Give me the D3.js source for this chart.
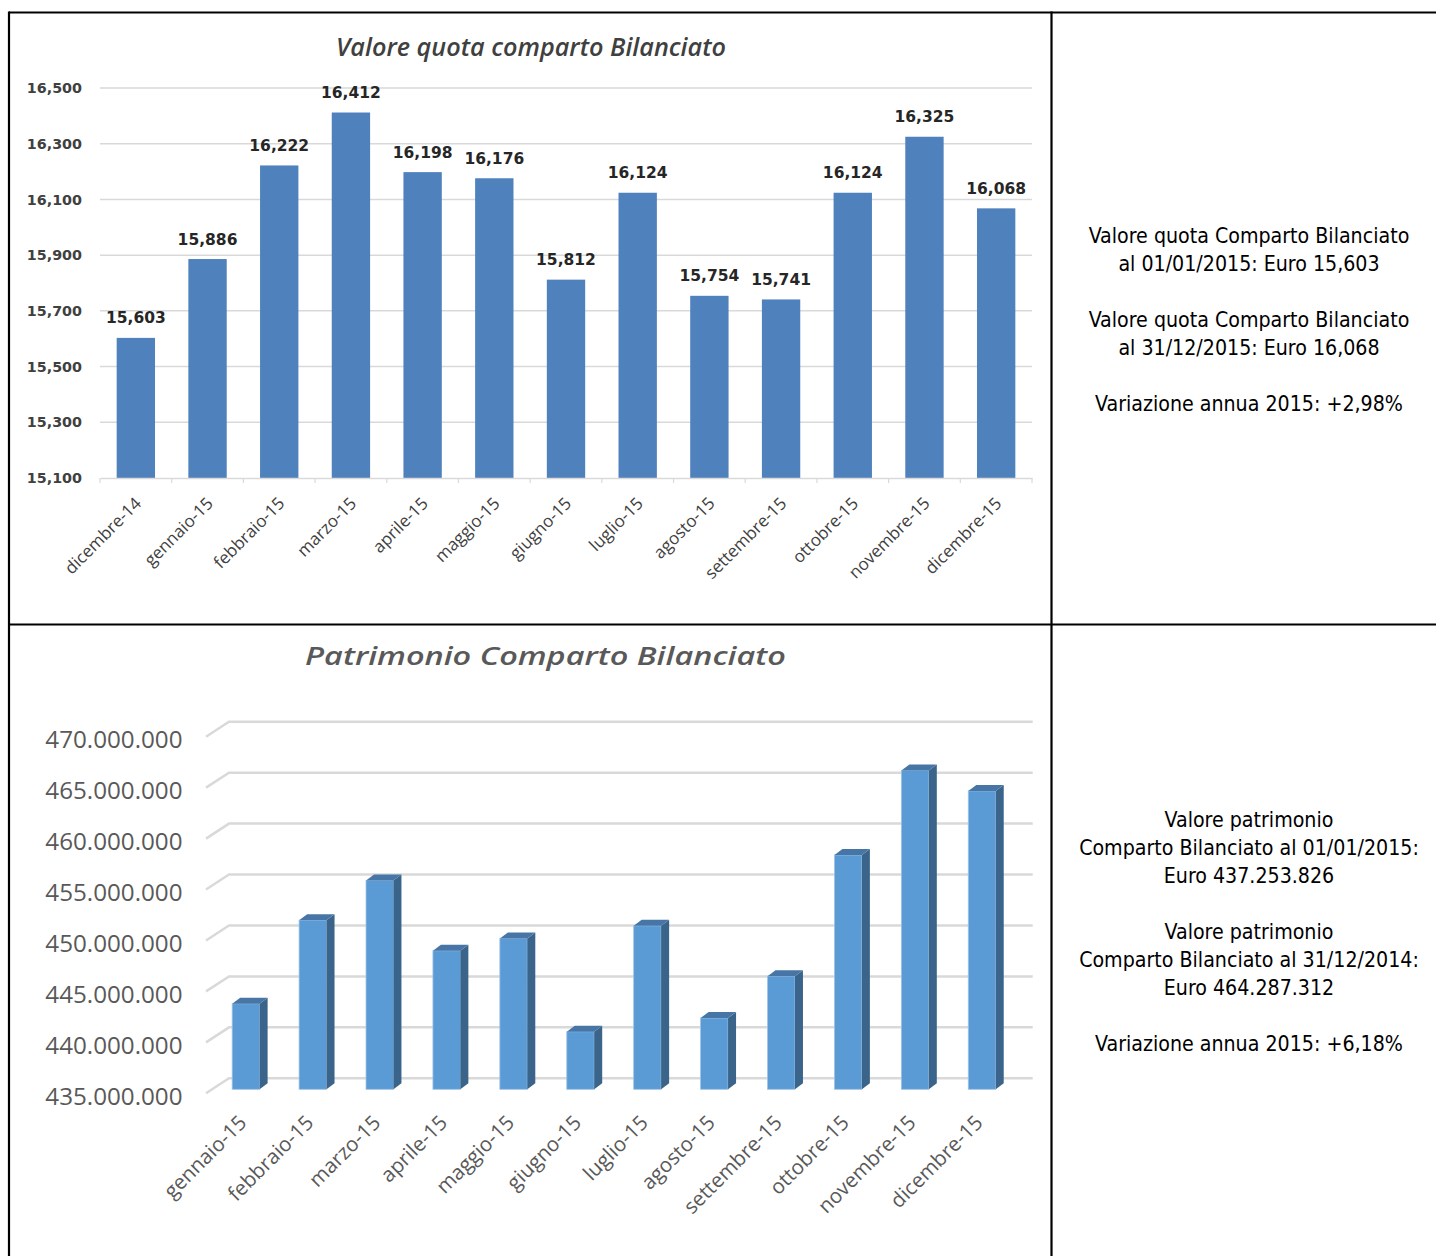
<!DOCTYPE html>
<html><head><meta charset="utf-8">
<script src="https://cdn.jsdelivr.net/npm/d3@7"></script>
<style>
html,body{margin:0;padding:0;background:#fff;}
svg{display:block;}
</style></head>
<body>
<svg id="c" width="1436" height="1256"></svg>
<script>
// ---------- DATA ----------
const quotaCategories = ["dicembre-14","gennaio-15","febbraio-15","marzo-15","aprile-15","maggio-15","giugno-15","luglio-15","agosto-15","settembre-15","ottobre-15","novembre-15","dicembre-15"];
const quotaValues = [15.603,15.886,16.222,16.412,16.198,16.176,15.812,16.124,15.754,15.741,16.124,16.325,16.068];
const quotaTicks = [15.1,15.3,15.5,15.7,15.9,16.1,16.3,16.5];
const quotaTitle = "Valore quota comparto Bilanciato";

const patrCategories = ["gennaio-15","febbraio-15","marzo-15","aprile-15","maggio-15","giugno-15","luglio-15","agosto-15","settembre-15","ottobre-15","novembre-15","dicembre-15"];
const patrValues = [443400000,451600000,455500000,448600000,449800000,440650000,451050000,442000000,446100000,458000000,466300000,464287312];
const patrTicks = [435000000,440000000,445000000,450000000,455000000,460000000,465000000,470000000];
const patrTitle = "Patrimonio Comparto Bilanciato";

const quotaNotes = ["Valore quota Comparto Bilanciato","al 01/01/2015: Euro 15,603","","Valore quota Comparto Bilanciato","al 31/12/2015: Euro 16,068","","Variazione annua 2015: +2,98%"];
const patrNotes = ["Valore patrimonio","Comparto Bilanciato al 01/01/2015:","Euro 437.253.826","","Valore patrimonio","Comparto Bilanciato al 31/12/2014:","Euro 464.287.312","","Variazione annua 2015: +6,18%"];

// ---------- SETUP ----------
const it = d3.formatLocale({decimal:",", thousands:".", grouping:[3], currency:["€",""]});
const fmtQuota = it.format(".3f");
const fmtPatr = it.format(",.0f");
const svg = d3.select("#c");

// table grid
const border = svg.append("g").attr("stroke","#000").attr("stroke-width",2.2).attr("fill","none");
border.append("line").attr("x1",9).attr("x2",1436).attr("y1",12.5).attr("y2",12.5);
border.append("line").attr("x1",9).attr("x2",9).attr("y1",11.5).attr("y2",1256);
border.append("line").attr("x1",1051.5).attr("x2",1051.5).attr("y1",11.5).attr("y2",1256);
border.append("line").attr("x1",9).attr("x2",1436).attr("y1",624.5).attr("y2",624.5);

// ---------- TOP CHART ----------
const topG = svg.append("g");
const x1 = d3.scaleBand().domain(quotaCategories).range([100,1032]).paddingInner(0.465).paddingOuter(0.2325);
const y1 = d3.scaleLinear().domain([15.1,16.5]).range([478,88]);

topG.append("text").attr("x",531).attr("y",56).attr("text-anchor","middle")
  .attr("font-family","'Open Sans', sans-serif").attr("font-style","italic").attr("font-weight",600)
  .attr("font-size",25).attr("fill","#404040").attr("textLength",390).attr("lengthAdjust","spacingAndGlyphs")
  .text(quotaTitle);

topG.append("g").selectAll("line").data(quotaTicks.slice(1)).join("line")
  .attr("x1",100).attr("x2",1032).attr("y1",d=>y1(d)).attr("y2",d=>y1(d))
  .attr("stroke","#d9d9d9").attr("stroke-width",1.5);

const yAx1 = topG.append("g").attr("transform","translate(97,0)")
  .call(d3.axisLeft(y1).tickValues(quotaTicks).tickFormat(fmtQuota).tickSize(0).tickPadding(15));
yAx1.select(".domain").remove();
yAx1.selectAll("text").attr("font-family","'DejaVu Sans', sans-serif").attr("font-weight",700)
  .attr("font-size",14.3).attr("fill","#404040");

topG.append("g").selectAll("rect").data(quotaValues).join("rect")
  .attr("x",(d,i)=>x1(quotaCategories[i])).attr("width",x1.bandwidth())
  .attr("y",d=>y1(d)).attr("height",d=>y1(15.1)-y1(d)).attr("fill","#4f81bd");

const xAx1 = topG.append("g").attr("transform","translate(0,478)")
  .call(d3.axisBottom(x1).tickSize(0).tickFormat(""));
xAx1.select(".domain").attr("stroke","#d9d9d9").attr("stroke-width",1.5);
// boundary tick marks
topG.append("g").selectAll("line").data(d3.range(quotaCategories.length+1)).join("line")
  .attr("x1",i=>x1.range()[0]+i*x1.step()).attr("x2",i=>x1.range()[0]+i*x1.step())
  .attr("y1",478).attr("y2",483).attr("stroke","#d9d9d9").attr("stroke-width",1.2);

topG.append("g").selectAll("text").data(quotaCategories).join("text")
  .attr("transform",d=>`translate(${x1(d)+x1.bandwidth()/2+6.5},504.5) rotate(-45)`)
  .attr("text-anchor","end").attr("font-family","'Open Sans', sans-serif").attr("font-size",17)
  .attr("fill","#404040").text(d=>d);

topG.append("g").selectAll("text").data(quotaValues).join("text")
  .attr("x",(d,i)=>x1(quotaCategories[i])+x1.bandwidth()/2).attr("y",d=>y1(d)-14.5)
  .attr("text-anchor","middle").attr("font-family","'DejaVu Sans', sans-serif").attr("font-weight",700)
  .attr("font-size",15.5).attr("fill","#262626").text(d=>fmtQuota(d));

// ---------- BOTTOM CHART (pseudo 3D) ----------
const bot = svg.append("g");
const wallDX = 23, wallDY = 15;       // depth of the side wall
const barDX = 16.9, barDY = 11;       // bars sit this much in front of back wall
const depthX = 8, depthY = 6;         // bar thickness
const yB = d3.scaleLinear().domain([435000000,470000000]).range([1078.3,721.7]);
const xB = d3.scaleBand().domain(patrCategories).range([229-barDX,1032.7-barDX]).paddingInner(0.59).paddingOuter(0.3);

bot.append("text").attr("x",545.5).attr("y",665).attr("text-anchor","middle")
  .attr("font-family","'Open Sans', sans-serif").attr("font-style","italic").attr("font-weight",600)
  .attr("font-size",26).attr("fill","#595959").attr("textLength",481).attr("lengthAdjust","spacingAndGlyphs")
  .text(patrTitle);

const grid = bot.append("g").attr("stroke","#d9d9d9").attr("stroke-width",2.5).attr("fill","none");
grid.selectAll("path").data(patrTicks).join("path")
  .attr("d",d=>`M${229-wallDX},${yB(d)+wallDY}L229,${yB(d)}L1032.7,${yB(d)}`);

bot.append("g").selectAll("text").data(patrTicks).join("text")
  .attr("x",182.5).attr("y",d=>yB(d)+26.6).attr("text-anchor","end")
  .attr("font-family","'Open Sans', sans-serif").attr("font-size",24.2).attr("fill","#595959")
  .text(d=>fmtPatr(d));

const bars = bot.append("g").selectAll("g").data(patrValues).join("g");
bars.each(function(d,i){
  const g = d3.select(this);
  const x0 = xB(patrCategories[i]), w = xB.bandwidth();
  const yt = yB(d)+barDY, yb = yB(435000000)+barDY;
  g.append("rect").attr("x",x0).attr("y",yt).attr("width",w).attr("height",yb-yt)
    .attr("fill","#5b9bd5").attr("stroke","#9dc3e6").attr("stroke-width",0.8);
  g.append("path").attr("d",`M${x0+w},${yt}L${x0+w+depthX},${yt-depthY}L${x0+w+depthX},${yb-depthY}L${x0+w},${yb}Z`)
    .attr("fill","#3a6489");
  g.append("path").attr("d",`M${x0},${yt}L${x0+depthX},${yt-depthY}L${x0+w+depthX},${yt-depthY}L${x0+w},${yt}Z`)
    .attr("fill","#4776a6");
});

bot.append("g").selectAll("text").data(patrCategories).join("text")
  .attr("transform",d=>`translate(${xB(d)+xB.bandwidth()/2+2},1124) rotate(-45)`)
  .attr("text-anchor","end").attr("font-family","'Open Sans', sans-serif").attr("font-size",20.5)
  .attr("fill","#595959").text(d=>d);

// ---------- NOTES ----------
function notes(lines, y0){
  svg.append("g").selectAll("text").data(lines).join("text")
    .attr("x",1249).attr("y",(d,i)=>y0+i*28).attr("text-anchor","middle")
    .attr("font-family","'DejaVu Sans Condensed','Liberation Sans Narrow',Roboto,sans-serif")
    .attr("font-size",21.2).attr("fill","#000").text(d=>d);
}
notes(quotaNotes, 242.5);
notes(patrNotes, 826.5);
</script>
</body></html>
